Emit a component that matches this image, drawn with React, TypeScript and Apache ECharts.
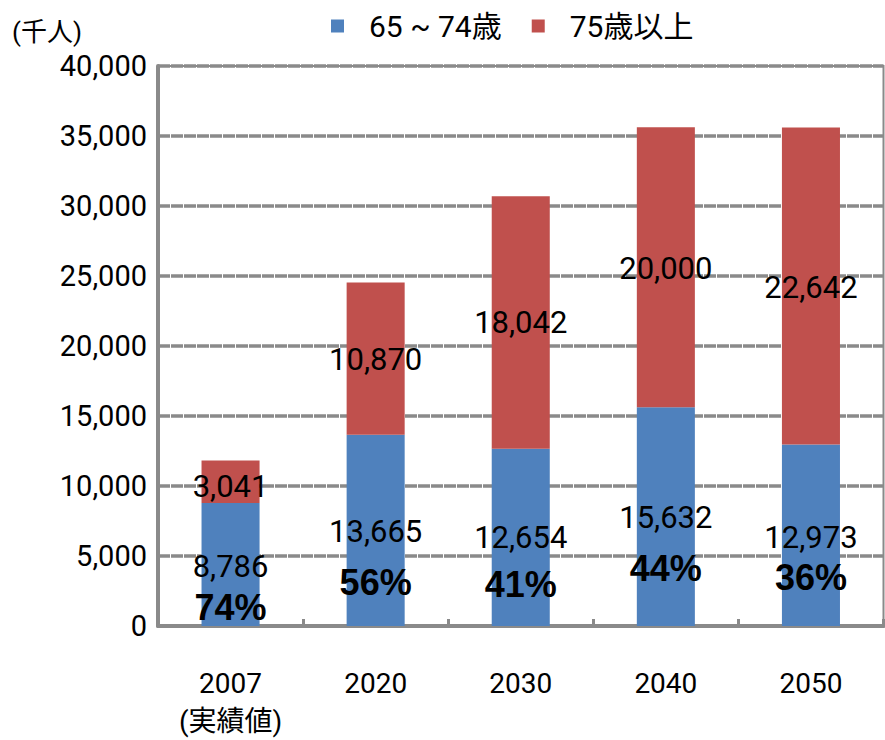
import React, { useEffect, useRef } from "react";
import * as echarts from "echarts";

const categories = ["2007\n(実績値)", "2020", "2030", "2040", "2050"];
const seriesNames = ["65 ~ 74歳", "75歳以上"];
const age65to74 = [8786, 13665, 12654, 15632, 12973];
const age75plus = [3041, 10870, 18042, 20000, 22642];
const shareLabels = ["74%", "56%", "41%", "44%", "36%"];
const yMin = 0;
const yMax = 40000;
const yInterval = 5000;
const unitLabel = "(千人)";

// label layout tweaks (not data)
const blueLabelOffset = [23, 27, 24, 26, 22];
const blueLabelGap = [41, 51, 47, 51, 40];
const redLabelOffset = [5, 1, 0, 1, 2];

const FONT = "Roboto, 'Noto Sans CJK JP', sans-serif";
const BLUE = "#4F81BD";
const RED = "#C0504D";
const GRID = "#8a8a8a";

const fmt = (v: number) => v.toLocaleString("en-US");

export default function App() {
  const ref = useRef<HTMLDivElement>(null);
  useEffect(() => {
    if (!ref.current) return;
    const chart = echarts.init(ref.current, undefined, { renderer: "svg" });
    const blueData = age65to74.map((v, i) => ({
      value: v,
      label: {
        show: true,
        position: "inside",
        offset: [0, blueLabelOffset[i]],
        formatter: `{v|${fmt(v)}}\n{p|${shareLabels[i]}}`,
        rich: {
          v: {
            fontSize: 31,
            lineHeight: blueLabelGap[i],
            color: "#000",
            fontFamily: FONT,
          },
          p: {
            fontSize: 36,
            lineHeight: blueLabelGap[i],
            color: "#000",
            fontWeight: "bold",
            fontFamily: "'Liberation Sans', Arial, sans-serif",
          },
        },
      },
    }));
    const redData = age75plus.map((v, i) => ({
      value: v,
      label: {
        show: true,
        position: "inside",
        offset: [0, redLabelOffset[i]],
        formatter: fmt(v),
        fontSize: 31,
        color: "#000",
        fontFamily: FONT,
      },
    }));
    chart.setOption({
      animation: false,
      textStyle: { fontFamily: FONT },
      legend: {
        data: seriesNames,
        left: 326,
        top: 6,
        itemWidth: 13,
        itemHeight: 13,
        itemGap: 30,
        icon: "rect",
        textStyle: { fontSize: 30, color: "#000", fontFamily: FONT, padding: [0, 0, 0, 20] },
      },
      graphic: [
        {
          type: "text",
          left: 12,
          top: 19,
          style: { text: unitLabel, fontSize: 26, fill: "#000", fontFamily: FONT },
        },
      ],
      grid: {
        left: 158,
        right: 1.5,
        top: 66,
        bottom: 114,
        show: true,
        borderColor: GRID,
        borderWidth: 2,
      },
      xAxis: {
        type: "category",
        data: categories,
        axisLine: { lineStyle: { color: GRID, width: 4 } },
        axisTick: { show: true, inside: true, length: 7, lineStyle: { color: GRID, width: 3 } },
        axisLabel: {
          fontSize: 28,
          color: "#000",
          lineHeight: 38,
          margin: 38,
          fontFamily: FONT,
        },
      },
      yAxis: {
        type: "value",
        min: yMin,
        max: yMax,
        interval: yInterval,
        axisLine: { show: true, lineStyle: { color: GRID, width: 4 } },
        axisTick: { show: false },
        splitLine: { lineStyle: { color: GRID, width: 3.5, type: [12, 1] } },
        axisLabel: {
          fontSize: 29,
          color: "#000",
          margin: 11,
          padding: [16, 0, 0, 0],
          fontFamily: FONT,
          formatter: (v: number) => fmt(v),
        },
      },
      series: [
        {
          name: seriesNames[0],
          type: "bar",
          stack: "total",
          barWidth: "40%",
          itemStyle: { color: BLUE },
          data: blueData,
        },
        {
          name: seriesNames[1],
          type: "bar",
          stack: "total",
          barWidth: "40%",
          itemStyle: { color: RED },
          data: redData,
        },
      ],
    });
    return () => chart.dispose();
  }, []);
  return (
    <div
      ref={ref}
      style={{ position: "fixed", left: 0, top: 0, width: 885, height: 740, background: "#fff" }}
    />
  );
}
